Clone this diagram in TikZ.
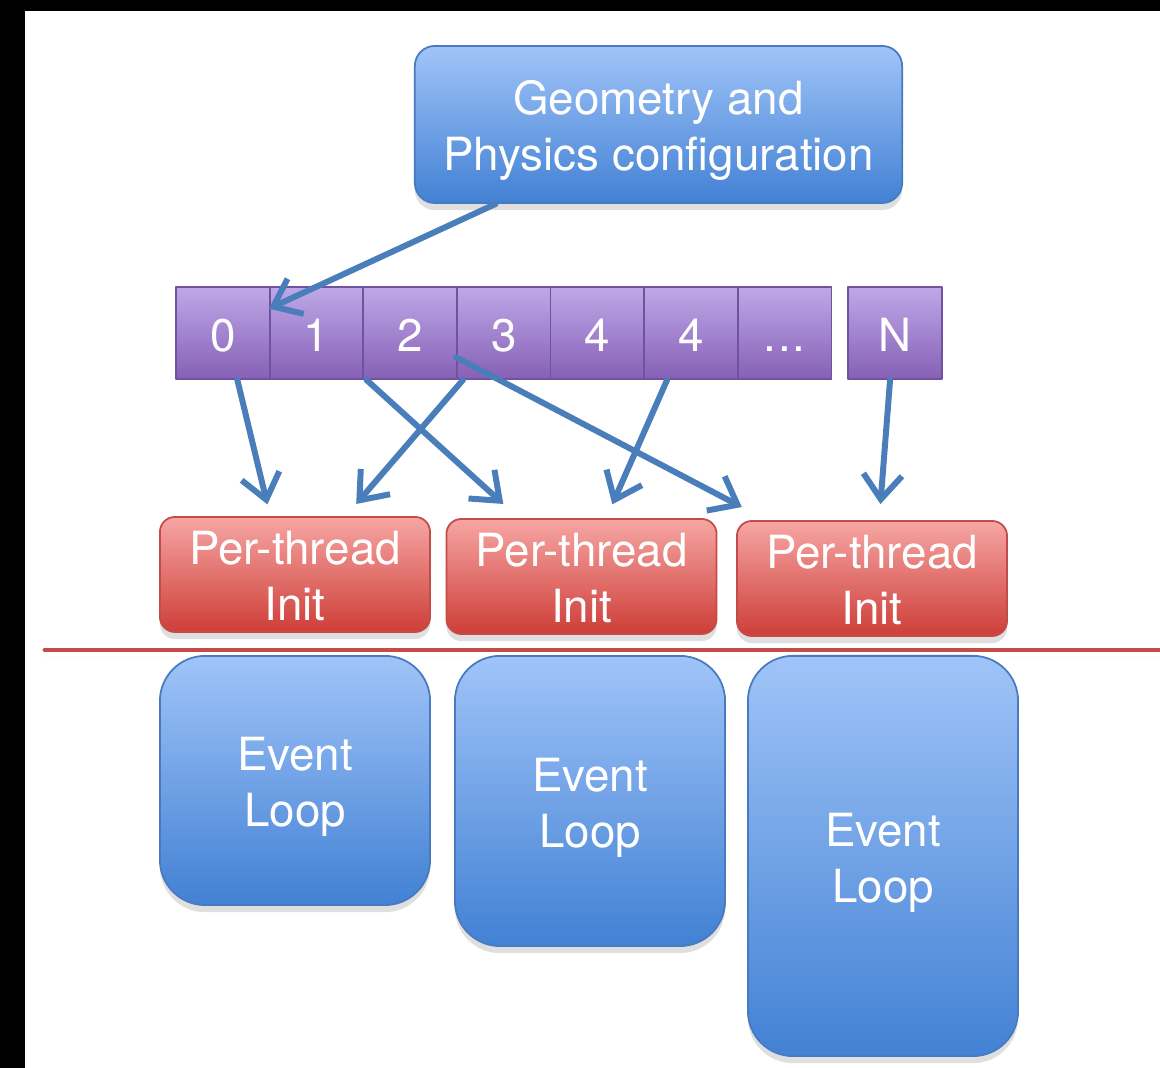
\documentclass[tikz,border=0pt]{standalone}
\usepackage{fontspec}
\setmainfont{TeX Gyre Heros}
\usetikzlibrary{arrows.meta,shadows}

\definecolor{bluetop}{RGB}{160,196,248}
\definecolor{bluebot}{RGB}{66,129,212}
\definecolor{blueline}{RGB}{72,122,192}
\definecolor{purptop}{RGB}{190,168,232}
\definecolor{purpbot}{RGB}{134,96,182}
\definecolor{purpline}{RGB}{112,82,160}
\definecolor{redtop}{RGB}{246,166,164}
\definecolor{redbot}{RGB}{206,62,56}
\definecolor{redline}{RGB}{196,76,72}
\definecolor{arrowblue}{RGB}{74,126,187}

\newcommand\celldots{.\kern0.5pt.\kern0.5pt.}

\tikzset{
  white text/.style={text=white, align=center, inner sep=0pt, font=\fontsize{13}{16}\selectfont},
  two lines/.style={white text,
    execute at begin node={\rule{0pt}{29.4pt}}, execute at end node={\rule[-3pt]{0pt}{3pt}}},
  soft shadow/.style={drop shadow={opacity=0.25, shadow xshift=0pt, shadow yshift=-2pt}},
  bluebox/.style={two lines, soft shadow, draw=blueline, line width=0.5pt,
    top color=bluetop, bottom color=bluebot},
  cell/.style={white text, draw=purpline, line width=0.5pt, top color=purptop, bottom color=purpbot,
    minimum width=0.936cm, minimum height=0.92cm,
    execute at begin node={\rule{0pt}{12.4pt}}, execute at end node={\rule[-2pt]{0pt}{2pt}}},
  initbox/.style={two lines, soft shadow, draw=redline, line width=0.5pt, top color=redtop, bottom color=redbot,
    rounded corners=0.15cm, minimum width=2.7cm, minimum height=1.15cm},
}

\begin{document}
\begin{tikzpicture}[x=0.01cm, y=-0.01cm,
                    >={Straight Barb[length=7pt,width=11pt]},
                    every path/.append style={line cap=round, line join=round}]
                      \useasboundingbox (0,0) rectangle (1160,1068);
                      \fill[black] (0,0) rectangle (1160,1068);
                      \fill[white] (25,11) rectangle (1160,1068);

                      \node[bluebox, rounded corners=0.2cm, minimum width=4.87cm, minimum height=1.57cm] (geo) at (658.5,124.5) {Geometry and\\Physics configuration};

                      \foreach \t [count=\i from 0] in {0,1,2,3,4,4,\celldots}
                        \node[cell] (c\i) at (223+93.6*\i,333) {\t};
                      \node[cell] (cN) at (895,333) {N};

                      \node[initbox] (init1) at (295,574.5) {Per-thread\\Init};
                      \node[initbox] (init2) at (581.5,576.5) {Per-thread\\Init};
                      \node[initbox] (init3) at (872,578.5) {Per-thread\\Init};

                      \draw[redline, line width=1.4pt, soft shadow] (45,650) -- (1160,650);

                      \node[bluebox, rounded corners=0.45cm, minimum width=2.7cm, minimum height=2.49cm] (loop1) at (295,780.5) {Event\\Loop};
                      \node[bluebox, rounded corners=0.45cm, minimum width=2.7cm, minimum height=2.9cm] (loop2) at (590,801) {Event\\Loop};
                      \node[bluebox, rounded corners=0.45cm, minimum width=2.7cm, minimum height=4.0cm] (loop3) at (883,856) {Event\\Loop};

                      \begin{scope}[arrowblue, line width=1.7pt]
                        \draw[->] (geo.206) -- (c1.153);
                        \draw[->, shorten >=0.12cm] (c0.-73) -- (init1.113);
                        \draw[->, shorten >=0.16cm] (c3.229) -- (init1.49);
                        \draw[->, shorten >=0.21cm] (c2.227) -- (init2.137);
                        \draw[->, shorten >=0.15cm] (c5.243) -- (init2.67);
                        \draw[->, shorten >=0.28cm] (c3.207) -- (init3.151);
                        \draw[->, shorten >=0.16cm] (cN.264) -- (init3.83);
                      \end{scope}
                    \end{tikzpicture}
\end{document}
